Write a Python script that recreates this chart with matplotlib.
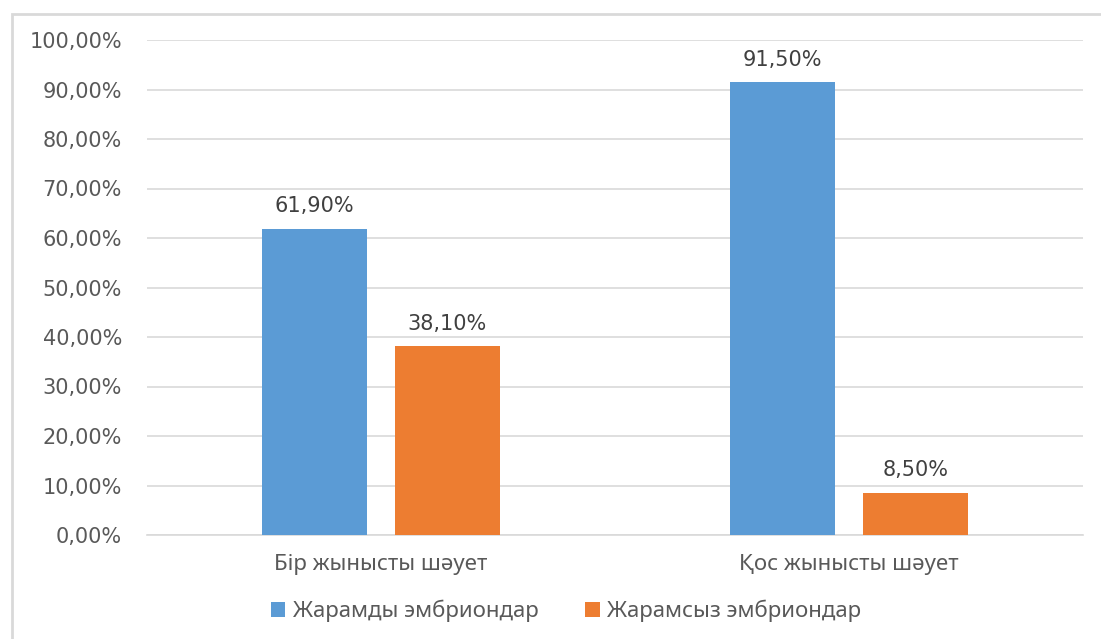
import matplotlib
matplotlib.use("Agg")
import matplotlib.pyplot as plt
from matplotlib.patches import Rectangle, Patch
import numpy as np

categories = ["Бір жынысты шәует", "Қос жынысты шәует"]
series_names = ["Жарамды эмбриондар", "Жарамсыз эмбриондар"]
viable = [61.90, 91.50]
nonviable = [38.10, 8.50]
y_ticks = [0, 10, 20, 30, 40, 50, 60, 70, 80, 90, 100]

colors = ["#5B9BD5", "#ED7D31"]
text_gray = "#595959"
label_gray = "#404040"
grid_gray = "#D9D9D9"
cat_font = "Noto Sans"
num_font = "DejaVu Sans"


def pct(v):
    return f"{v:.2f}%".replace(".", ",")


W, H = 1101, 639
fig = plt.figure(figsize=(W / 100, H / 100), dpi=100)
fig.patch.set_facecolor("white")

# outer chart-area border (open to the right/bottom)
fig.add_artist(Rectangle((12 / W, -0.1), 1.2, 1 - 14 / H + 0.1,
                         transform=fig.transFigure, fill=False,
                         edgecolor="#D9D9D9", linewidth=2))

ax = fig.add_axes([147 / W, 1 - 535 / H, (1083 - 147) / W, (535 - 40) / H])
x = np.arange(len(categories))
bw = 0.224
off = 0.142
bars1 = ax.bar(x - off, viable, bw, color=colors[0], zorder=3)
bars2 = ax.bar(x + off, nonviable, bw, color=colors[1], zorder=3)

for bars, vals in ((bars1, viable), (bars2, nonviable)):
    for b, v in zip(bars, vals):
        ax.annotate(pct(v), (b.get_x() + b.get_width() / 2, v),
                    xytext=(0, 9), textcoords="offset points",
                    ha="center", va="bottom", fontsize=15,
                    family=num_font, color=label_gray)

ax.set_xlim(-0.5, 1.5)
ax.set_ylim(0, 100)
ax.set_yticks(y_ticks)
ax.set_yticklabels([pct(v) for v in y_ticks], family=num_font,
                   fontsize=15, color=text_gray)
ax.set_xticks(x)
ax.set_xticklabels(categories, family=cat_font, fontsize=16,
                   color=text_gray)
ax.tick_params(axis="y", length=0, pad=18)
ax.tick_params(axis="x", length=0, pad=14)
ax.grid(axis="y", color=grid_gray, linewidth=1.2, zorder=0)
for s in ("top", "right", "left"):
    ax.spines[s].set_visible(False)
ax.spines["bottom"].set_color(grid_gray)
ax.spines["bottom"].set_linewidth(1.2)

handles = [Patch(facecolor=c, edgecolor="none") for c in colors]
fig.legend(handles, series_names, loc="center", bbox_to_anchor=(566 / W, 1 - 611 / H),
           ncol=2, frameon=False, handlelength=0.65, handleheight=0.65,
           handletextpad=0.35, columnspacing=2.1,
           prop={"family": cat_font, "size": 16}, labelcolor=text_gray)

fig.savefig("out.png", dpi=100, facecolor="white")
